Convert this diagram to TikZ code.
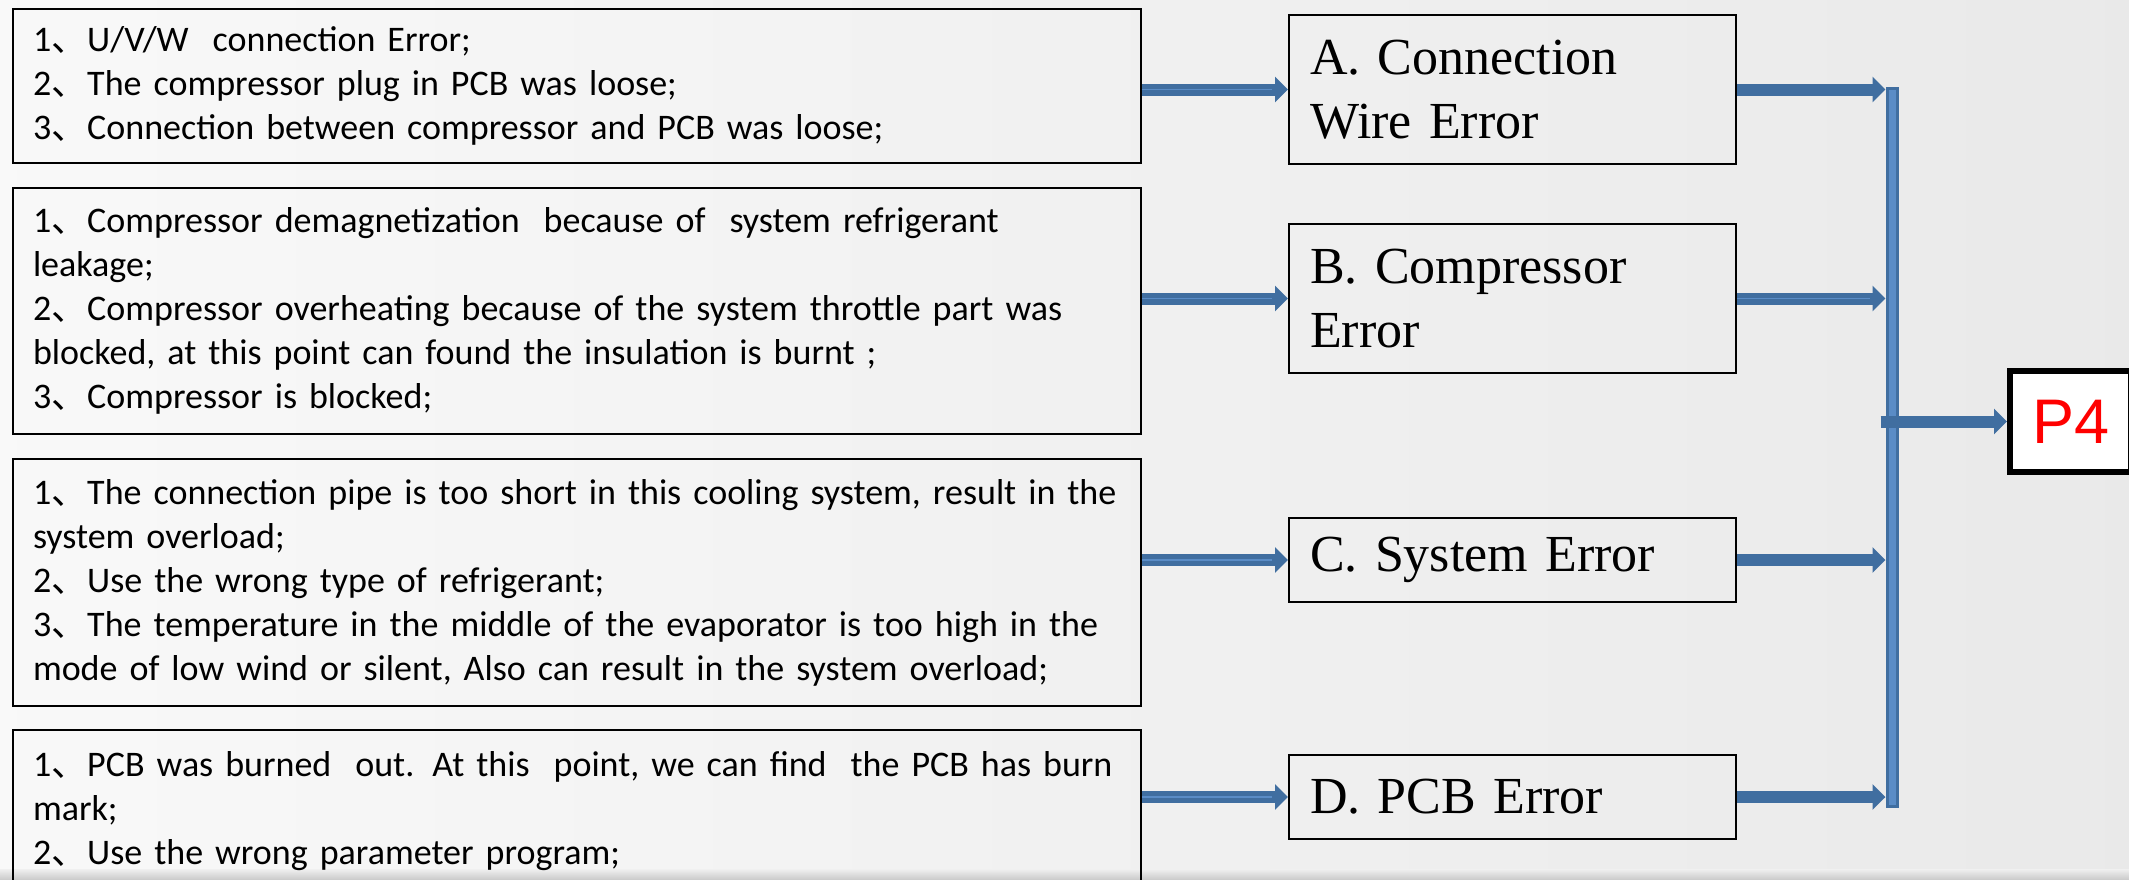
\documentclass[tikz,border=0pt]{standalone}
\usepackage{fontspec}
\setmainfont{Carlito}
\newfontfamily\cjk{Noto Sans CJK SC}
\newfontfamily\tnr{Liberation Serif}
\newfontfamily\arl{Liberation Sans}
\usetikzlibrary{arrows.meta}
\definecolor{flowblue}{RGB}{64,110,160}
\definecolor{flowlight}{RGB}{90,140,198}
\newcommand{\dn}{{\cjk 、}}
\tikzset{
  >={Triangle[width=12.5pt,length=6.5pt]},
  causebox/.style={draw, line width=1pt, anchor=north west, align=left,
    text width=544pt, inner xsep=10pt,
    font=\fontsize{18pt}{22pt}\selectfont},
  errbox/.style={draw, line width=1pt, anchor=north west, align=left,
    text width=202.5pt, inner xsep=10.5pt,
    font=\tnr\fontsize{26pt}{32pt}\selectfont},
  flow/.style={draw=flowblue, line width=6pt, ->},
  core/.style={draw=flowlight, line width=0.8pt, shorten >=8pt}
}

\begin{document}
\begin{tikzpicture}[x=0.5pt,y=-0.5pt]
  \useasboundingbox (0,0) rectangle (2129,879);
  \clip (0,0) rectangle (2129,879);
  \shade[left color=gray!5, middle color=white, right color=gray!17] (0,0) rectangle (2129,879);
  \shade[top color=gray!12, bottom color=gray!40] (0,869) rectangle (2129,879);

  % causes
  \node[causebox, minimum height=77pt] (c1) at (12,8)
    {1\dn U/V/W\ \ connection Error;\\
     2\dn The compressor plug in PCB was loose;\\
     3\dn Connection between compressor and PCB was loose;};
  \node[causebox, minimum height=123pt] (c2) at (12,187)
    {1\dn Compressor demagnetization\ \ because of\ \ system refrigerant\\
     leakage;\\
     2\dn Compressor overheating because of the system throttle part was\\
     blocked, at this point can found the insulation is burnt ;\\
     3\dn Compressor is blocked;};
  \node[causebox, minimum height=123.5pt] (c3) at (12,458)
    {1\dn The connection pipe is too short in this cooling system, result in the\\
     system overload;\\
     2\dn Use the wrong type of refrigerant;\\
     3\dn The temperature in the middle of the evaporator is too high in the\\
     mode of low wind or silent, Also can result in the system overload;};
  \node[causebox, minimum height=81pt] (c4) at (12,729)
    {1\dn PCB was burned\ \ out. At this\ \ point, we can find\ \ the PCB has burn\\
     mark;\\
     2\dn Use the wrong parameter program;};

  % errors
  \node[errbox, minimum height=74.5pt] (eA) at (1288,14) {A. Connection\\Wire Error};
  \node[errbox, minimum height=74.5pt] (eB) at (1288,223) {B. Compressor\\Error};
  \node[errbox, minimum height=42pt] (eC) at (1288,517) {C. System Error};
  \node[errbox, minimum height=42pt] (eD) at (1288,754) {D. PCB Error};

  \node[draw, line width=3pt, fill=white, anchor=west, inner xsep=11pt,
    minimum height=50.5pt, text=red, font=\arl\fontsize{31.5pt}{36pt}\selectfont]
    (p4) at (2007,421.5) {P4};

  \node[fill=flowlight, draw=flowblue, line width=1.5pt, minimum width=5pt,
    minimum height=359pt, inner sep=0pt] (bus) at (1892,447) {};

  \foreach \c/\e in {c1/eA,c2/eB,c3/eC,c4/eD}{
    \draw[flow] (\c.east |- \e.west) -- (\e.west);
    \draw[core] (\c.east |- \e.west) -- (\e.west);
    \draw[flow] (\e.east) -- (\e.east -| bus.west);
  }
  \draw[core] (eB.east) -- (eB.east -| bus.west);
  \draw[flow, shorten <=-2.5pt] (bus.west |- p4.west) -- (p4.west);
\end{tikzpicture}
\end{document}
